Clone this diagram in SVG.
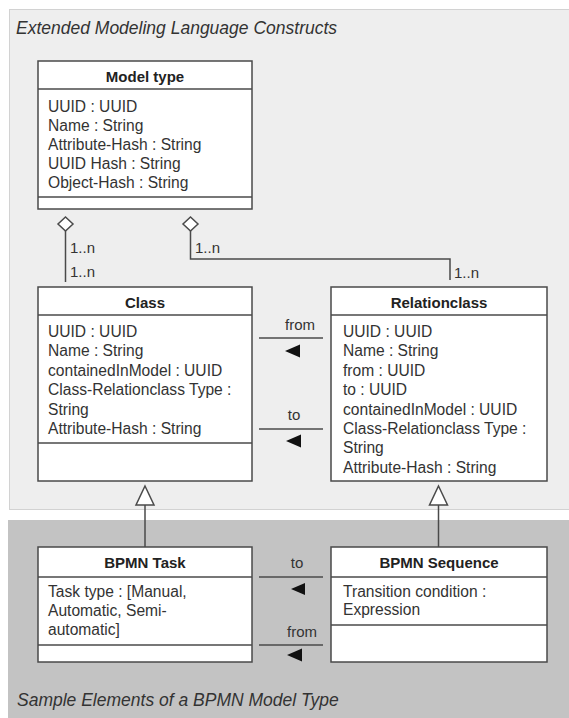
<svg xmlns="http://www.w3.org/2000/svg" width="569" height="718" viewBox="0 0 569 718">
<style>
.panel1{fill:#eeeeee;stroke:#d2d2d2;stroke-width:1}
.panel2{fill:#c3c3c3;stroke:none}
.box{fill:#ffffff;stroke:#4a4a4a;stroke-width:1.5}
.sep{stroke:#4a4a4a;stroke-width:1.5}
.ln{stroke:#4a4a4a;stroke-width:1.5;fill:none}
.hdr{font-family:"Liberation Sans",Arial,sans-serif;font-size:15px;font-weight:bold;fill:#222;text-anchor:middle}
.attr{font-family:"Liberation Sans",Arial,sans-serif;font-size:15.6px;fill:#333}
.cap{font-family:"Liberation Sans",Arial,sans-serif;font-size:17.5px;font-style:italic;fill:#333}
.lbl{font-family:"Liberation Sans",Arial,sans-serif;font-size:15px;fill:#333}
.lblm{font-family:"Liberation Sans",Arial,sans-serif;font-size:15px;fill:#333;text-anchor:middle}
.arr{fill:#111}
.dia{fill:#ffffff;stroke:#4a4a4a;stroke-width:1.5}
.tri{fill:#ffffff;stroke:#4a4a4a;stroke-width:1.5}
</style>
<rect x="0" y="0" width="569" height="718" fill="#ffffff"/>
<g id="panel-top">
<rect class="panel1" x="9.5" y="9.5" width="565" height="500"/>
<text class="cap" x="16" y="34">Extended Modeling Language Constructs</text>
</g>
<g id="panel-bottom">
<rect class="panel2" x="8" y="520" width="561" height="198"/>
<text class="cap" x="17" y="706">Sample Elements of a BPMN Model Type</text>
</g>
<g id="connectors">
<line class="ln" x1="65.5" y1="231" x2="65.5" y2="282"/>
<polyline class="ln" points="190.5,231 190.5,259 450,259 450,280"/>
<polygon class="dia" points="65.5,217 73,224 65.5,231 58,224"/>
<polygon class="dia" points="190.5,217 198,224 190.5,231 183,224"/>
<text class="lbl" x="70" y="253">1..n</text>
<text class="lbl" x="70" y="277">1..n</text>
<text class="lbl" x="195" y="253">1..n</text>
<text class="lbl" x="454" y="278">1..n</text>
<line class="ln" x1="259" y1="338" x2="323" y2="338"/>
<text class="lblm" x="300" y="330">from</text>
<polygon class="arr" points="285,351 300,344.5 300,357.5"/>
<line class="ln" x1="259" y1="429" x2="323" y2="429"/>
<text class="lblm" x="294" y="420">to</text>
<polygon class="arr" points="286,441 301,434.5 301,447.5"/>
<line class="ln" x1="259" y1="577" x2="323" y2="577"/>
<text class="lblm" x="297" y="568">to</text>
<polygon class="arr" points="291,589 305,583 305,595"/>
<line class="ln" x1="259" y1="645" x2="323" y2="645"/>
<text class="lblm" x="302" y="637">from</text>
<polygon class="arr" points="287,655 302,648.5 302,661.5"/>
<line class="ln" x1="145" y1="505" x2="145" y2="547"/>
<polygon class="tri" points="145,486 154,505 136,505"/>
<line class="ln" x1="438.5" y1="505" x2="438.5" y2="547"/>
<polygon class="tri" points="438.5,486 447.5,505 429.5,505"/>
</g>
<g id="model-type">
<rect class="box" x="38" y="61" width="214" height="148"/>
<line class="sep" x1="38" y1="89" x2="252" y2="89"/>
<line class="sep" x1="38" y1="197" x2="252" y2="197" stroke-width="2"/>
<text class="hdr" x="145" y="82">Model type</text>
<text class="attr" x="48" y="112">UUID : UUID</text>
<text class="attr" x="48" y="131">Name : String</text>
<text class="attr" x="48" y="150">Attribute-Hash : String</text>
<text class="attr" x="48" y="169">UUID Hash : String</text>
<text class="attr" x="48" y="188">Object-Hash : String</text>
</g>
<g id="class">
<rect class="box" x="38" y="287" width="214" height="194"/>
<line class="sep" x1="38" y1="315" x2="252" y2="315"/>
<line class="sep" x1="38" y1="443" x2="252" y2="443"/>
<text class="hdr" x="145" y="308">Class</text>
<text class="attr" x="48" y="337">UUID : UUID</text>
<text class="attr" x="48" y="356.4">Name : String</text>
<text class="attr" x="48" y="375.8">containedInModel : UUID</text>
<text class="attr" x="48" y="395.2">Class-Relationclass Type :</text>
<text class="attr" x="48" y="414.6">String</text>
<text class="attr" x="48" y="434">Attribute-Hash : String</text>
</g>
<g id="relationclass">
<rect class="box" x="331" y="287" width="216" height="194"/>
<line class="sep" x1="331" y1="315" x2="547" y2="315"/>
<text class="hdr" x="439" y="308">Relationclass</text>
<text class="attr" x="343" y="337">UUID : UUID</text>
<text class="attr" x="343" y="356.4">Name : String</text>
<text class="attr" x="343" y="375.8">from : UUID</text>
<text class="attr" x="343" y="395.2">to : UUID</text>
<text class="attr" x="343" y="414.6">containedInModel : UUID</text>
<text class="attr" x="343" y="434">Class-Relationclass Type :</text>
<text class="attr" x="343" y="453.4">String</text>
<text class="attr" x="343" y="472.8">Attribute-Hash : String</text>
</g>
<g id="bpmn-task">
<rect class="box" x="38" y="547" width="214" height="115"/>
<line class="sep" x1="38" y1="577" x2="252" y2="577"/>
<line class="sep" x1="38" y1="645" x2="252" y2="645"/>
<text class="hdr" x="145" y="568">BPMN Task</text>
<text class="attr" x="48" y="597">Task type : [Manual,</text>
<text class="attr" x="48" y="616">Automatic, Semi-</text>
<text class="attr" x="48" y="635">automatic]</text>
</g>
<g id="bpmn-sequence">
<rect class="box" x="331" y="547" width="216" height="115"/>
<line class="sep" x1="331" y1="577" x2="547" y2="577"/>
<line class="sep" x1="331" y1="625" x2="547" y2="625"/>
<text class="hdr" x="439" y="568">BPMN Sequence</text>
<text class="attr" x="343" y="597">Transition condition :</text>
<text class="attr" x="343" y="615">Expression</text>
</g>
</svg>
